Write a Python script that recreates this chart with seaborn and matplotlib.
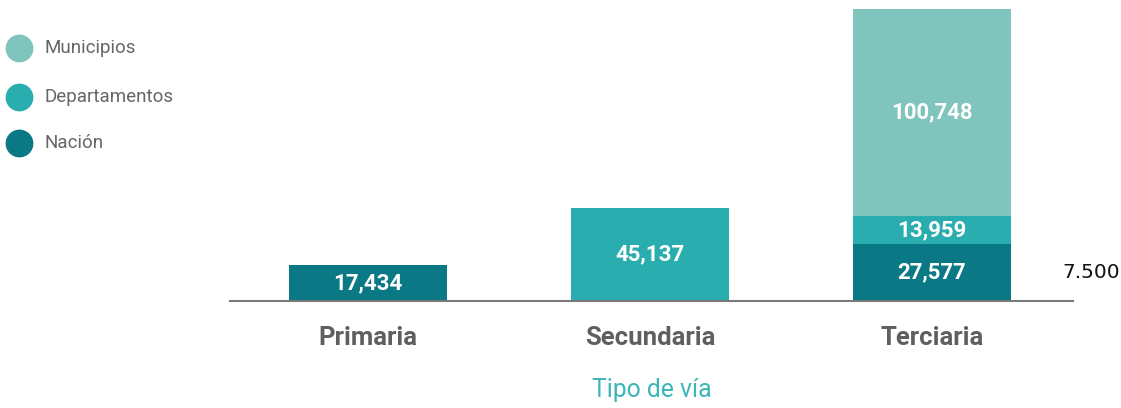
import matplotlib
matplotlib.use("Agg")
import matplotlib.pyplot as plt
import seaborn as sns
import pandas as pd
import numpy as np
from matplotlib.lines import Line2D

categories = ["Primaria", "Secundaria", "Terciaria"]
nacion = [17434, 0, 27577]
departamentos = [0, 45137, 13959]
municipios = [0, 0, 100748]
series_names = ["Municipios", "Departamentos", "Nación"]
annotation = "7.500"

colors = {"Municipios": "#7fc4bd", "Departamentos": "#2aadae", "Nación": "#0b7886"}

sns.set_theme(style="white")
plt.rcParams["font.family"] = ["Roboto", "DejaVu Sans"]

fig = plt.figure(figsize=(11.21, 4.08), dpi=100)
ax = fig.add_axes([230/1121, 107/408, 843/1121, 301/408])

df = pd.DataFrame({"cat": categories, "Nación": nacion,
                   "Departamentos": departamentos, "Municipios": municipios})
df["c1"] = df["Nación"]
df["c2"] = df["c1"] + df["Departamentos"]
df["c3"] = df["c2"] + df["Municipios"]

width = 0.56
for col, name in [("c3", "Municipios"), ("c2", "Departamentos"), ("c1", "Nación")]:
    sns.barplot(data=df, x="cat", y=col, color=colors[name], width=width,
                saturation=1, ax=ax, order=categories, linewidth=0, edgecolor="none")

for i, row in df.iterrows():
    base = 0
    for name in ["Nación", "Departamentos", "Municipios"]:
        v = row[name]
        if v > 0:
            ax.text(i, base + v / 2, f"{v:,}", ha="center", va="center",
                    color="white", fontsize=16, fontweight="bold")
        base += v

ax.set_xlim(-0.49, 2.5)
ax.set_ylim(0, 146500)
ax.set_xlabel("")
ax.set_ylabel("")
ax.set_yticks([])
ax.tick_params(axis="x", length=0, pad=18, labelsize=18.5, labelcolor="#5f5f5f")
for lab in ax.get_xticklabels():
    lab.set_fontweight("bold")
for s in ["top", "left", "right"]:
    ax.spines[s].set_visible(False)
ax.spines["bottom"].set_color("#7a7a7a")
ax.spines["bottom"].set_linewidth(1.5)
ax.spines["bottom"].set_zorder(5)

fig.text(652/1121, 1 - 390/408, "Tipo de vía", ha="center", va="center",
         fontsize=17.8, color="#3bb5b8")
fig.text(1062/1121, 1 - 272/408, annotation, ha="left", va="center",
         fontsize=14.5, color="#111111", family="DejaVu Sans")

# legend (manual, figure coordinates)
leg_y = [48, 97, 143]
for name, y in zip(series_names, leg_y):
    fig.add_artist(Line2D([19/1121], [1 - y/408], transform=fig.transFigure,
                          marker="o", markersize=19, linestyle="",
                          markerfacecolor=colors[name], markeredgecolor=colors[name]))
    fig.text(45/1121, 1 - y/408, name, ha="left", va="center",
             fontsize=13.5, color="#666666")

fig.savefig("out.png", dpi=100)
